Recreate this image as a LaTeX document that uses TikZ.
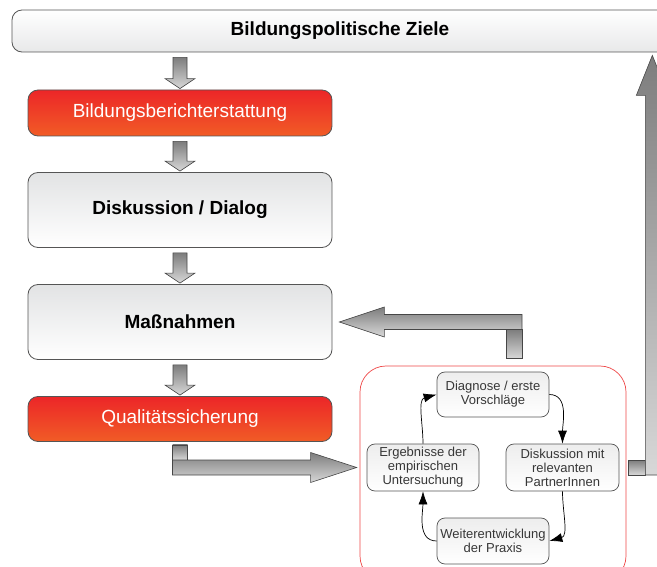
\documentclass[tikz,border=0pt]{standalone}
\usepackage{fontspec}
\setmainfont{Liberation Sans}
\usepackage{tikz}
\usetikzlibrary{arrows.meta, shapes, positioning, calc}
\usepackage{xcolor}
\definecolor{boxborder}{RGB}{85,85,85}
\definecolor{boxtop}{RGB}{226,227,228}
\definecolor{redtop}{RGB}{236,38,40}
\definecolor{redbottom}{RGB}{241,92,38}
\definecolor{arrowdark}{RGB}{125,125,125}
\definecolor{arrowlight}{RGB}{216,216,216}
\definecolor{arrowborder}{RGB}{70,70,70}
\definecolor{cycletext}{RGB}{55,55,55}
\definecolor{framered}{RGB}{238,72,72}
\tikzset{graybox/.style={rectangle, rounded corners=10pt, draw=boxborder, line width=0.8pt, top color=boxtop, bottom color=white, text=black, font=\fontsize{19}{22}\selectfont\bfseries, minimum width=304pt},
redbox/.style={rectangle, rounded corners=10pt, draw=boxborder, line width=0.8pt, top color=redtop, bottom color=redbottom, text=white, font=\fontsize{19}{22}\selectfont, minimum width=304pt, minimum height=46pt}}
\tikzset{fatarrow/.style={draw=arrowborder, line width=0.6pt, top color=arrowdark, bottom color=arrowlight},
cyclearrow/.style={-{Latex[length=13pt, width=9pt]}, line width=0.7pt, black}}
% fat arrow straight down from one node to the next
\newcommand{\fatdown}[2]{%
    \path[fatarrow] let \p1=(#1.south), \p2=(#2.north) in
        (\x2-7pt,\y1-5pt) -- (\x2+7pt,\y1-5pt) -- (\x2+7pt,\y2+11pt) -- (\x2+15pt,\y2+11pt)
        -- (\x2,\y2+1pt) -- (\x2-15pt,\y2+11pt) -- (\x2-7pt,\y2+11pt) -- cycle;}

\begin{document}
\begin{tikzpicture}[
        x=1pt, y=-1pt,
        topbox/.style={rectangle, rounded corners=10pt, draw=boxborder, line width=0.8pt, top color=white, bottom color=boxtop!80, font=\fontsize{19}{22}\selectfont\bfseries},
        cyclebox/.style={rectangle, rounded corners=8pt, draw=boxborder, line width=0.7pt, top color=gray!14, bottom color=white, text=cycletext, align=center, font=\fontsize{13}{14}\selectfont, minimum width=112pt, minimum height=46pt, inner sep=0pt}
    ]
        \clip (0,0) rectangle (657,567);
        % Left column
        \node[topbox, minimum width=656pt, minimum height=42pt] (ziele) at (340,31) {Bildungspolitische Ziele};
        \node[redbox] (bericht) at (180,113) {Bildungsberichterstattung};
        \node[graybox, minimum height=75pt] (dialog) at (180,210) {Diskussion / Dialog};
        \node[graybox, minimum height=75pt] (massnahmen) at (180,322) {Maßnahmen};
        \node[redbox, minimum height=45pt] (qualitaet) at (180,419) {Qualitätssicherung};
        % Cycle
        \node[draw=framered, line width=0.7pt, rounded corners=26pt, minimum width=266pt, minimum height=216pt] (zyklus) at (493,474) {};
        \node[cyclebox, minimum height=45pt] (diagnose) at (493,394.5) {Diagnose / erste\\Vorschläge};
        \node[cyclebox, minimum width=113pt, minimum height=47pt] (partner) at (562.5,467.5) {Diskussion mit\\relevanten\\PartnerInnen};
        \node[cyclebox] (praxis) at (493,541) {Weiterentwicklung\\der Praxis};
        \node[cyclebox, minimum height=47pt] (ergebnisse) at (423,467.5) {Ergebnisse der\\empirischen\\Untersuchung};
        \draw[cyclearrow] (diagnose.east) to[out=0, in=90] (partner.north);
        \draw[cyclearrow] (partner.south) to[out=-90, in=15] (praxis.east);
        \draw[cyclearrow] (praxis.west) to[out=180, in=-90] (ergebnisse.south);
        \draw[cyclearrow] (ergebnisse.north) to[out=90, in=195] (diagnose.west);
        % Fat arrows
        \fatdown{ziele}{bericht}
        \fatdown{bericht}{dialog}
        \fatdown{dialog}{massnahmen}
        \fatdown{massnahmen}{qualitaet}
        \path[fatarrow] let \p1=(qualitaet.south), \p3=(ergebnisse.west) in
            (\x1-7.5pt,\y1-3pt) rectangle (\x1+7.5pt,\y3+7.5pt);
        \path[fatarrow] let \p1=(qualitaet.south), \p2=(zyklus.west), \p3=(ergebnisse.west) in
            (\x1-7.5pt,\y3+7.5pt) -- (\x2-49pt,\y3+7.5pt) -- (\x2-49pt,\y3+15pt) -- (\x2-3pt,\y3)
            -- (\x2-49pt,\y3-15pt) -- (\x2-49pt,\y3-7.5pt) -- (\x1-7.5pt,\y3-7.5pt) -- cycle;
        \path[fatarrow] let \p1=(massnahmen.east), \p2=(zyklus.north) in
            (\x2+13pt,\y1-7.5pt) rectangle (\x2+29pt,\y2+7pt);
        \path[fatarrow] let \p1=(massnahmen.east), \p2=(zyklus.north) in
            (\x1+7pt,\y1) -- (\x1+52pt,\y1+15pt) -- (\x1+52pt,\y1+7.5pt) -- (\x2+29pt,\y1+7.5pt)
            -- (\x2+29pt,\y1-7.5pt) -- (\x1+52pt,\y1-7.5pt) -- (\x1+52pt,\y1-15pt) -- cycle;
        \path[fatarrow] let \p1=(zyklus.east), \p3=(partner.east) in
            (\x1+2pt,\y3+7.5pt) rectangle (\x1+19pt,\y3-7.5pt);
        \path[fatarrow] let \p1=(zyklus.east), \p2=(ziele.south), \p3=(partner.east) in
            (\x1+19pt,\y3-7.5pt) -- (\x1+19pt,\y2-43pt) -- (\x1+10pt,\y2-43pt) -- (\x1+26pt,\y2-3pt)
            -- (\x1+42pt,\y2-43pt) -- (\x1+34pt,\y2-43pt) -- (\x1+34pt,\y3-7.5pt) -- cycle;
    \end{tikzpicture}
\end{document}
